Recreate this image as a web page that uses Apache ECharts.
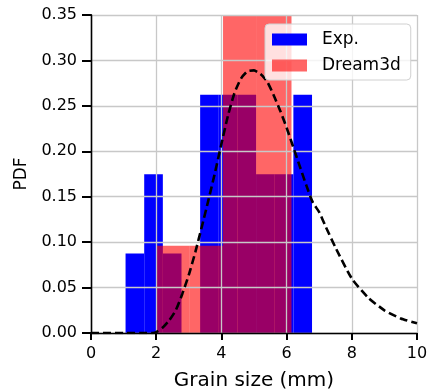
<!DOCTYPE html>
<html><head><meta charset="utf-8">
<script src="https://cdn.jsdelivr.net/npm/echarts@6/dist/echarts.min.js"></script>
<style>html,body{margin:0;padding:0;background:#fff}#c{width:427px;height:392px}</style>
</head><body><div id="c"></div>
<script>
// Exp. histogram: bin edges and density values
const expEdges = [1.06, 1.632, 2.204, 2.776, 3.348, 3.92, 4.492, 5.064, 5.636, 6.208, 6.78];
const expValues = [0.0874, 0.1748, 0.0874, 0, 0.2622, 0.2622, 0.2622, 0.1748, 0.1748, 0.2622];
// Dream3d histogram
const d3dEdges = [2.0, 3.03, 4.05, 5.09, 6.15];
const d3dValues = [0.096, 0.096, 0.385, 0.385];
// Fitted PDF curve (dashed)
const fitX = [0, 0.5, 1, 1.5, 1.9, 2.0, 2.2, 2.4, 2.6, 2.8, 3.0, 3.2, 3.4, 3.6, 3.8, 4.0, 4.2, 4.4, 4.6, 4.8, 5.0, 5.2, 5.4, 5.6, 5.8, 6.0, 6.2, 6.4, 6.6, 6.8, 7.0, 7.2, 7.5, 8.0, 8.5, 9.0, 9.5, 10.0];
const fitY = [0, 0, 0, 0, 0, 0.001, 0.006, 0.014, 0.025, 0.043, 0.064, 0.089, 0.117, 0.146, 0.176, 0.208, 0.239, 0.264, 0.280, 0.288, 0.289, 0.285, 0.277, 0.262, 0.245, 0.226, 0.205, 0.184, 0.163, 0.144, 0.133, 0.117, 0.094, 0.060, 0.039, 0.025, 0.016, 0.0107];
const xTicks = [0, 2, 4, 6, 8, 10];
const yTicks = [0.00, 0.05, 0.10, 0.15, 0.20, 0.25, 0.30, 0.35];

const X_MIN = 0, X_MAX = 10, Y_MIN = 0, Y_MAX = 0.35;

function toBins(edges, vals){
  return vals.map((v,i)=>[edges[i], edges[i+1], v]);
}
function barRender(params, api){
  const x0 = api.value(0), x1 = api.value(1), y = Math.min(api.value(2), Y_MAX);
  const p0 = api.coord([x0, 0]), p1 = api.coord([x1, y]);
  return {type:'rect', shape:{x:p0[0], y:p1[1], width:p1[0]-p0[0], height:p0[1]-p1[1]}, style:{fill: api.visual('color')}};
}
const font = 'DejaVu Sans';
const chart = echarts.init(document.getElementById('c'), null, {renderer:'canvas'});
chart.setOption({
  animation:false,
  backgroundColor:'#fff',
  grid:{left:91, right:10, top:15, bottom:59, containLabel:false, outerBoundsMode:'none'},
  legend:{
    orient:'vertical', left:265, top:24, z:10,
    data:['Exp.','Dream3d'],
    icon:'rect', itemWidth:35, itemHeight:12, itemGap:9,
    padding:[7,10,6,7],
    backgroundColor:'rgba(255,255,255,0.8)', borderColor:'#d0d0d0', borderWidth:1, borderRadius:4,
    textStyle:{fontFamily:font, fontSize:17, color:'#000', padding:[0,0,0,10]}
  },
  xAxis:{
    type:'value', min:X_MIN, max:X_MAX, interval:2, z:3,
    name:'Grain size (mm)', nameLocation:'middle', nameGap:38,
    nameTextStyle:{fontFamily:font, fontSize:20, color:'#000'},
    axisLine:{show:true, onZero:false, lineStyle:{color:'#000', width:1.3}},
    axisTick:{show:true, inside:false, length:7, lineStyle:{color:'#000', width:2, opacity:1}},
    axisLabel:{fontFamily:font, fontSize:16, color:'#000', margin:13},
    splitLine:{show:true, lineStyle:{color:'#c8c8c8', width:1.3}}
  },
  yAxis:[{
    type:'value', min:Y_MIN, max:Y_MAX, interval:0.05, z:3,
    name:'PDF', nameLocation:'middle', nameGap:61, nameRotate:90,
    nameTextStyle:{fontFamily:font, fontSize:17, color:'#000'},
    axisLine:{show:true, onZero:false, lineStyle:{color:'#000', width:1.3}},
    axisTick:{show:true, inside:false, length:9, lineStyle:{color:'#000', width:2, opacity:1}},
    axisLabel:{fontFamily:font, fontSize:16, color:'#000', margin:14, formatter:v=>v.toFixed(2)},
    splitLine:{show:true, lineStyle:{color:'#c8c8c8', width:1.3}}
  },{
    type:'value', min:Y_MIN, max:Y_MAX, interval:0.05, position:'right', z:3,
    axisLine:{show:true, lineStyle:{color:'#000', width:1.3}},
    axisTick:{show:false}, axisLabel:{show:false}, splitLine:{show:false}
  }],
  series:[
    {name:'Exp.', type:'custom', renderItem:barRender, itemStyle:{color:'#0000ff'},
     encode:{x:[0,1], y:2}, data:toBins(expEdges, expValues), z:1},
    {name:'Dream3d', type:'custom', renderItem:barRender, itemStyle:{color:'rgba(255,0,0,0.6)'},
     encode:{x:[0,1], y:2}, data:toBins(d3dEdges, d3dValues), z:2},
    {name:'fit', type:'line', showSymbol:false, symbol:'none', smooth:0.2, z:5,
     lineStyle:{color:'#000', width:2.6, type:[8,4]},
     data:fitX.map((x,i)=>[x, fitY[i]])}
  ]
});
</script></body></html>
